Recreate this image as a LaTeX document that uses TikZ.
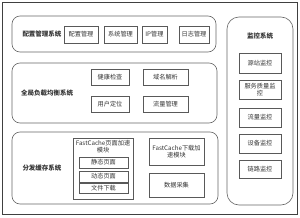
\documentclass[tikz,border=0pt]{standalone}
\usepackage{fontspec}
\setmainfont{Noto Sans CJK SC}
\usepackage{tikz}
\usetikzlibrary{positioning}

\begin{document}
\begin{tikzpicture}[
    x=1pt, y=-1pt,
    frame/.style={draw=black!75, line width=0.9pt},
    group/.style={draw=black!60, line width=0.6pt, rounded corners=8pt, minimum width=#1},
    group/.default=200pt,
    item/.style={draw=black!65, line width=0.5pt, inner sep=0pt, align=center,
        font=\fontsize{6.2}{6.6}\selectfont, text=black!80},
    title/.style={font=\fontsize{6.5}{7}\selectfont\bfseries, text=black!80}
]
\useasboundingbox (0,0) rectangle (300,217);
\node[frame, minimum width=295pt, minimum height=212pt, inner sep=0pt] (outer) at (149.5,108) {};

% configuration management
\node[group=204pt, minimum height=36pt] (cfg) at (114,34) {};
\node[title] (cfgt) at (42,34) {配置管理系统};
\node[item, minimum width=34pt, minimum height=17pt] (cfg1) at (81,34.5) {配置管理};
\node[item, minimum width=33pt, minimum height=17pt] (cfg2) at (120.5,34.5) {系统管理};
\node[item, minimum width=25pt, minimum height=17pt] (cfg3) at (154.5,34.5) {IP管理};
\node[item, minimum width=30pt, minimum height=17pt] (cfg4) at (194,34.5) {日志管理};

% global load balancing
\node[group=205pt, minimum height=60pt] (glb) at (114.5,93) {};
\node[title] (glbt) at (47,93) {全局负载均衡系统};
\node[item, minimum width=38pt, minimum height=16pt] (glb1) at (110,77) {健康检查};
\node[item, minimum width=45pt, minimum height=16pt] (glb2) at (165.5,77) {域名解析};
\node[item, minimum width=38pt, minimum height=16pt] (glb3) at (110,104) {用户定位};
\node[item, minimum width=45pt, minimum height=16pt] (glb4) at (165.5,104) {流量管理};

% distribution cache
\node[group=206pt, minimum height=72pt] (dist) at (115,168) {};
\node[title] (distt) at (42,168) {分发缓存系统};
\node[item, minimum width=60pt, minimum height=61pt] (fcp) at (103,168.5) {};
\node[item, draw=none] (fcpt) at (103,146.5) {FastCache页面加速\\模块};
\node[item, minimum width=49pt, minimum height=11pt] (fcp1) at (103.5,162.5) {静态页面};
\node[item, minimum width=49pt, minimum height=11pt] (fcp2) at (103.5,176.5) {动态页面};
\node[item, minimum width=49pt, minimum height=10pt] (fcp3) at (103.5,188) {文件下载};
\node[item, minimum width=55pt, minimum height=27pt] (fcd) at (176.5,151.5) {FastCache下载加\\速模块};
\node[item, minimum width=55pt, minimum height=24pt] (dat) at (176.5,185) {数据采集};

% monitoring
\node[group=66pt, minimum height=188pt, rounded corners=12pt] (mon) at (260,111) {};
\node[title] (mont) at (260,36) {监控系统};
\node[item, minimum width=42pt, minimum height=20pt] (mon1) at (260,63) {源站监控};
\node[item, minimum width=42pt, minimum height=19pt] (mon2) at (260,89.5) {服务质量监\\控};
\node[item, minimum width=42pt, minimum height=19pt] (mon3) at (260,117.5) {流量监控};
\node[item, minimum width=42pt, minimum height=19pt] (mon4) at (260,143.5) {设备监控};
\node[item, minimum width=42pt, minimum height=18pt] (mon5) at (260,169) {链路监控};
\end{tikzpicture}
\end{document}
